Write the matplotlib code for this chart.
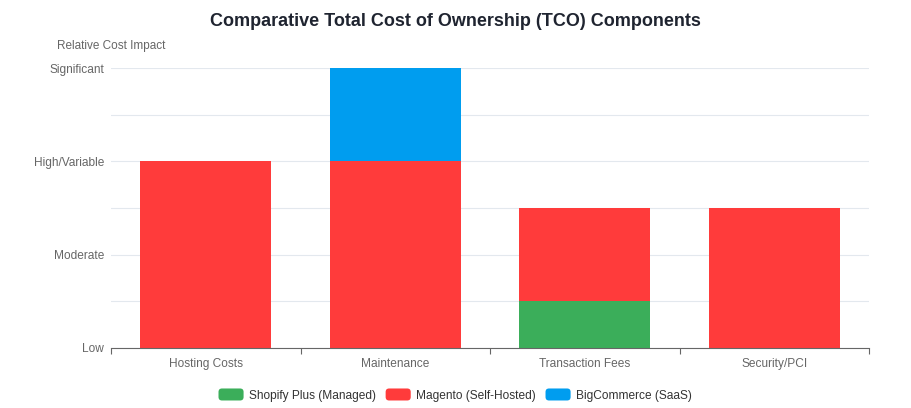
import matplotlib
matplotlib.use("Agg")
import matplotlib.pyplot as plt
from matplotlib.patches import FancyBboxPatch, Patch
from matplotlib.legend_handler import HandlerPatch
import numpy as np

plt.rcParams['font.family'] = ['Liberation Sans', 'DejaVu Sans']

categories = ["Hosting Costs", "Maintenance", "Transaction Fees", "Security/PCI"]
shopify = [0, 0, 0.5, 0]
magento = [2, 2, 1, 1.5]
bigcommerce = [0, 1, 0, 0]
series_names = ["Shopify Plus (Managed)", "Magento (Self-Hosted)", "BigCommerce (SaaS)"]
colors = ["#3bae5a", "#ff3b3b", "#009def"]
y_tick_values = [0, 1, 2, 3]
y_tick_labels = ["Low", "Moderate", "High/Variable", "Significant"]

fs = 8.6
fig = plt.figure(figsize=(9.11, 4.08), dpi=100)
ax = fig.add_axes([111/911, 60/408, 758/911, 280/408])

x = np.arange(len(categories))
w = 0.69
bottom = np.zeros(len(categories))
for vals, c, name in zip([shopify, magento, bigcommerce], colors, series_names):
    v = np.array(vals, dtype=float)
    ax.bar(x, v, w, bottom=bottom, color=c, label=name, zorder=3)
    bottom += v

ax.set_xlim(-0.5, len(categories) - 0.5)
ax.set_ylim(0, 3)
ax.set_yticks(y_tick_values)
ax.set_yticklabels(y_tick_labels)
ax.set_yticks(np.arange(0, 3.01, 0.5), minor=True)
ax.yaxis.grid(True, which='both', color='#e3e8ee', linewidth=0.8, zorder=0)
ax.tick_params(axis='y', which='both', length=0, pad=5, labelsize=fs, labelcolor='#666666')

ax.set_xticks(x)
ax.set_xticklabels(categories)
ax.set_xticks(np.arange(-0.5, len(categories)), minor=True)
ax.tick_params(axis='x', which='major', length=0, pad=7, labelsize=fs, labelcolor='#666666')
ax.tick_params(axis='x', which='minor', length=4, color='#666666', width=0.8)

for s in ['top', 'right', 'left']:
    ax.spines[s].set_visible(False)
ax.spines['bottom'].set_color('#666666')
ax.spines['bottom'].set_linewidth(0.8)
ax.spines['bottom'].set_zorder(4)

fig.text(455/911, 1 - 21.5/408, "Comparative Total Cost of Ownership (TCO) Components",
         ha='center', va='center', fontsize=13, fontweight='bold', color='#1f2430')
fig.text(111/911, 1 - 45.5/408, "Relative Cost Impact", ha='center', va='center',
         fontsize=8.5, color='#666666')

class RoundHandler(HandlerPatch):
    def create_artists(self, legend, orig_handle, xdescent, ydescent, width, height, fontsize, trans):
        p = FancyBboxPatch((-xdescent, -ydescent), width, height,
                           boxstyle="round,pad=0,rounding_size=2.5",
                           facecolor=orig_handle.get_facecolor(), edgecolor='none',
                           transform=trans)
        return [p]

handles = [Patch(facecolor=c, label=n) for c, n in zip(colors, series_names)]
fig.legend(handles=handles, loc='center', bbox_to_anchor=(455/911, 1 - 395/408),
           ncol=3, frameon=False, fontsize=fs, labelcolor='#333333',
           handlelength=2.1, handleheight=1.17, handletextpad=0.42, columnspacing=0.84,
           handler_map={Patch: RoundHandler()})

fig.savefig("out.png", dpi=100)
